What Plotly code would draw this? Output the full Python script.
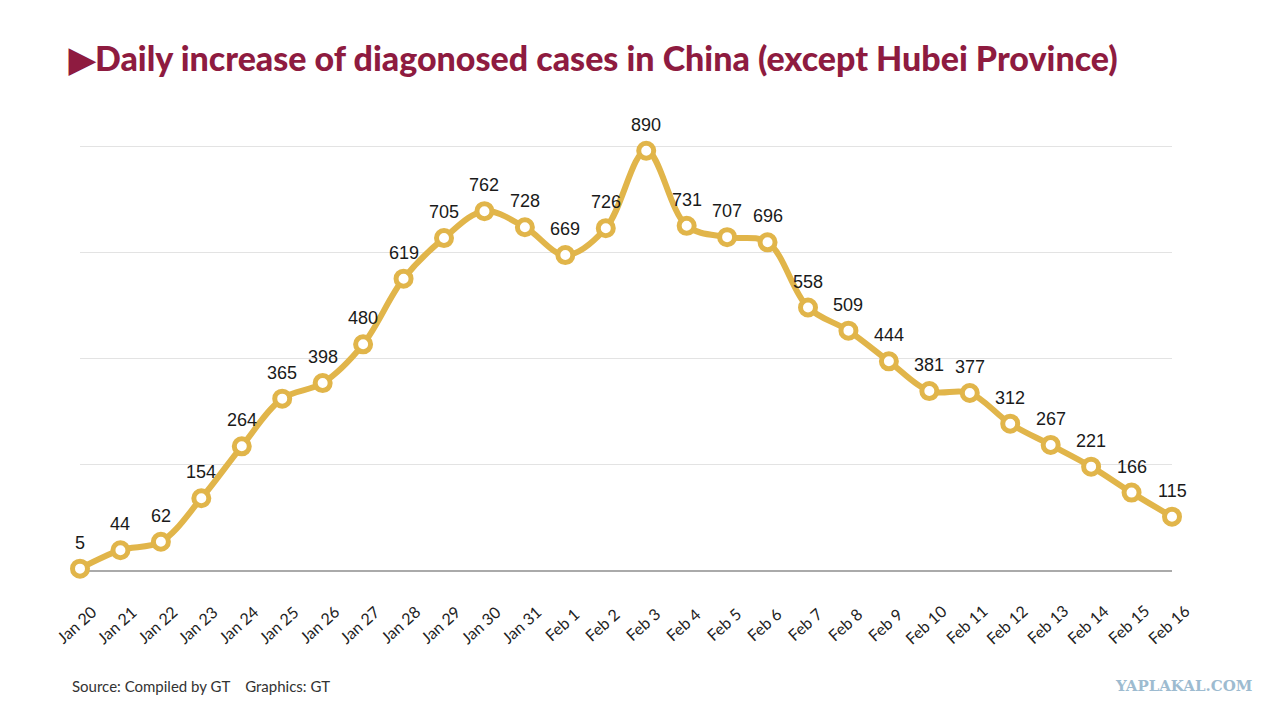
import plotly.graph_objects as go

# %%
dates = ['Jan 20', 'Jan 21', 'Jan 22', 'Jan 23', 'Jan 24', 'Jan 25', 'Jan 26',
         'Jan 27', 'Jan 28', 'Jan 29', 'Jan 30', 'Jan 31', 'Feb 1', 'Feb 2',
         'Feb 3', 'Feb 4', 'Feb 5', 'Feb 6', 'Feb 7', 'Feb 8', 'Feb 9',
         'Feb 10', 'Feb 11', 'Feb 12', 'Feb 13', 'Feb 14', 'Feb 15', 'Feb 16']
cases = [5, 44, 62, 154, 264, 365, 398, 480, 619, 705, 762, 728, 669, 726,
         890, 731, 707, 696, 558, 509, 444, 381, 377, 312, 267, 221, 166, 115]
grid_vals = [0, 225, 450, 675, 900]

GOLD = '#E1B54A'
TITLE_RED = '#8E1B40'

# page body adds an 8px offset, so margins are shifted by that
OFF = 8
L, R, T, B = 80 - OFF, 108 + OFF, 132 - OFF, 144 + OFF
PX_PER_UNIT = 425 / 900
YMAX = 900 + 14 / PX_PER_UNIT   # small headroom so the 900 gridline shows

# %%
fig = go.Figure()
fig.add_trace(go.Scatter(
    x=dates,
    y=cases,
    mode='lines+markers',
    line=dict(color=GOLD, width=6, shape='spline', smoothing=1.0),
    marker=dict(size=15, color='white', line=dict(color=GOLD, width=5)),
    cliponaxis=False,
    showlegend=False,
))

# value labels above each point
for d, v in zip(dates, cases):
    fig.add_annotation(
        x=d, y=v, text=str(v), showarrow=False, yshift=26,
        font=dict(family='Liberation Sans, Arial', size=18, color='#1a1a1a'),
    )

# rotated date labels, centred under each point
for d in dates:
    fig.add_annotation(
        x=d, y=0, yref='y', text=d, showarrow=False,
        textangle=-42, xshift=-4, yshift=-53,
        font=dict(family='Lato', size=16, color='#222'),
    )

fig.update_layout(
    width=1280, height=715,
    paper_bgcolor='white',
    plot_bgcolor='white',
    margin=dict(l=L, r=R, t=T, b=B),
    font=dict(family='Lato', color='#222'),
    xaxis=dict(
        type='category',
        range=[0, len(dates) - 1],
        showgrid=False,
        zeroline=False,
        showline=False,
        showticklabels=False,
        ticks='',
    ),
    yaxis=dict(
        range=[0, YMAX],
        tickvals=grid_vals,
        showticklabels=False,
        showgrid=True,
        gridcolor='#e3e3e3',
        gridwidth=1,
        zeroline=True,
        zerolinecolor='#aaaaaa',
        zerolinewidth=1.5,
    ),
)

# page texts, positioned in screen pixels and converted to paper coords
pw = 1280 - L - R
ph = 715 - T - B


def px(x, y):
    return (x - OFF - L) / pw, (715 - B - (y - OFF)) / ph


page_texts = [
    (66, 57, '▶Daily increase of diagonosed cases in China (except Hubei Province)',
     dict(family='Lato', size=34, color=TITLE_RED, weight=900), 'left'),
    (70, 686, 'Source: Compiled by GT    Graphics: GT',
     dict(family='Lato', size=15, color='#333'), 'left'),
    (1254, 686, '<b>YAPLAKAL.COM</b>',
     dict(family='DejaVu Serif', size=15, color='#9DBBD0'), 'right'),
]
for x, y, txt, fnt, anchor in page_texts:
    ax, ay = px(x, y)
    fig.add_annotation(
        x=ax, y=ay, xref='paper', yref='paper', text=txt, showarrow=False,
        font=fnt, xanchor=anchor, yanchor='middle',
    )

fig.write_html('out.html')
